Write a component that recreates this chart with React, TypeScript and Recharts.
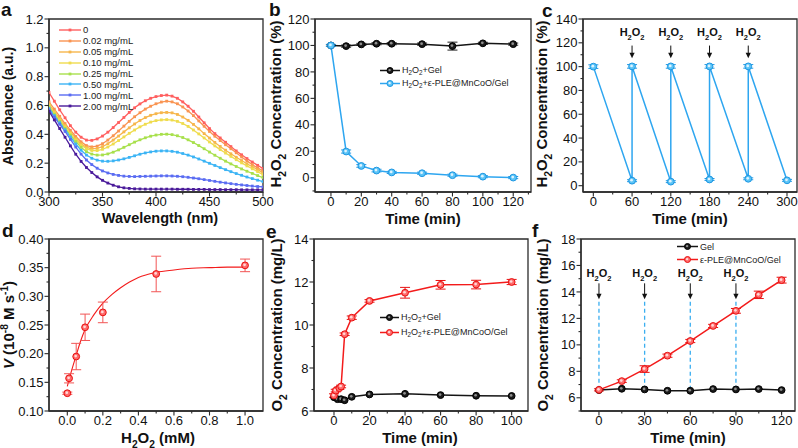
import React from "react";
import { LineChart, Line, XAxis, YAxis, ErrorBar, ReferenceArea, ReferenceDot, ReferenceLine, Legend } from "recharts";

const FONT = '"Liberation Sans", Arial, Helvetica, sans-serif';
const AX = "#2b2b2b";
const TXT = "#111";

// ---------- a: absorbance spectra ----------
const wavelengths = [300, 305, 310, 315, 320, 325, 330, 335, 340, 345, 350, 355, 360, 365, 370, 375, 380, 385, 390, 395, 400, 405, 410, 415, 420, 425, 430, 435, 440, 445, 450, 455, 460, 465, 470, 475, 480, 485, 490, 495, 500];
const concLabelsA = ["0", "0.02 mg/mL", "0.05 mg/mL", "0.10 mg/mL", "0.25 mg/mL", "0.50 mg/mL", "1.00 mg/mL", "2.00 mg/mL"];
const colorsA = ["#ff5f5f", "#f99452", "#f6b64c", "#efdc4e", "#a8e04c", "#3bb4f5", "#5a6cf2", "#4a1a9a"];
const abs0 = [0.69, 0.63, 0.57, 0.515, 0.46, 0.415, 0.38, 0.36, 0.358, 0.368, 0.388, 0.415, 0.447, 0.482, 0.517, 0.552, 0.584, 0.611, 0.633, 0.65, 0.662, 0.669, 0.672, 0.665, 0.65, 0.625, 0.595, 0.56, 0.52, 0.48, 0.44, 0.405, 0.375, 0.345, 0.315, 0.285, 0.258, 0.232, 0.208, 0.185, 0.163];
const abs002 = [0.625, 0.575, 0.525, 0.475, 0.428, 0.385, 0.348, 0.322, 0.313, 0.318, 0.335, 0.36, 0.39, 0.423, 0.457, 0.49, 0.522, 0.55, 0.575, 0.595, 0.612, 0.624, 0.63, 0.625, 0.612, 0.59, 0.562, 0.53, 0.493, 0.456, 0.42, 0.387, 0.357, 0.328, 0.3, 0.272, 0.243, 0.216, 0.19, 0.167, 0.146];
const abs005 = [0.61, 0.56, 0.51, 0.462, 0.415, 0.372, 0.335, 0.31, 0.3, 0.302, 0.315, 0.335, 0.36, 0.388, 0.417, 0.445, 0.472, 0.496, 0.516, 0.532, 0.543, 0.55, 0.552, 0.549, 0.538, 0.52, 0.497, 0.469, 0.438, 0.405, 0.374, 0.344, 0.316, 0.29, 0.265, 0.241, 0.218, 0.196, 0.175, 0.155, 0.133];
const abs010 = [0.6, 0.55, 0.5, 0.452, 0.405, 0.362, 0.325, 0.3, 0.288, 0.287, 0.296, 0.312, 0.333, 0.357, 0.382, 0.407, 0.43, 0.452, 0.47, 0.485, 0.495, 0.5, 0.502, 0.499, 0.49, 0.475, 0.455, 0.43, 0.403, 0.375, 0.347, 0.32, 0.294, 0.27, 0.247, 0.224, 0.202, 0.181, 0.161, 0.141, 0.12];
const abs025 = [0.59, 0.54, 0.49, 0.442, 0.395, 0.35, 0.31, 0.28, 0.263, 0.256, 0.257, 0.264, 0.276, 0.292, 0.31, 0.328, 0.346, 0.362, 0.376, 0.387, 0.395, 0.4, 0.401, 0.398, 0.39, 0.378, 0.362, 0.343, 0.322, 0.3, 0.277, 0.255, 0.234, 0.214, 0.195, 0.177, 0.16, 0.144, 0.129, 0.114, 0.1];
const abs050 = [0.58, 0.53, 0.48, 0.432, 0.382, 0.333, 0.29, 0.256, 0.234, 0.221, 0.214, 0.213, 0.216, 0.222, 0.23, 0.24, 0.251, 0.262, 0.271, 0.278, 0.283, 0.285, 0.285, 0.282, 0.276, 0.267, 0.256, 0.243, 0.229, 0.214, 0.199, 0.184, 0.169, 0.155, 0.141, 0.128, 0.116, 0.104, 0.093, 0.082, 0.072];
const abs100 = [0.57, 0.52, 0.47, 0.42, 0.365, 0.312, 0.263, 0.222, 0.19, 0.165, 0.146, 0.132, 0.122, 0.115, 0.11, 0.108, 0.107, 0.108, 0.109, 0.11, 0.111, 0.112, 0.112, 0.111, 0.109, 0.106, 0.102, 0.097, 0.092, 0.086, 0.08, 0.074, 0.068, 0.063, 0.058, 0.053, 0.049, 0.045, 0.041, 0.038, 0.035];
const abs200 = [0.56, 0.5, 0.44, 0.38, 0.32, 0.262, 0.212, 0.17, 0.135, 0.105, 0.081, 0.062, 0.047, 0.036, 0.029, 0.025, 0.022, 0.021, 0.02, 0.02, 0.02, 0.02, 0.02, 0.02, 0.019, 0.019, 0.019, 0.018, 0.018, 0.018, 0.017, 0.017, 0.017, 0.016, 0.016, 0.016, 0.015, 0.015, 0.015, 0.015, 0.015];
const absSeries = [abs0, abs002, abs005, abs010, abs025, abs050, abs100, abs200];

// ---------- b: H2O2 decomposition ----------
const timesB = [0, 10, 20, 30, 40, 60, 80, 100, 120];
const gelB = [100, 99.5, 100.8, 101.3, 101.3, 101, 99.5, 101.6, 101];
const gelErrB = [0.6, 0.8, 0.8, 0.8, 0.8, 0.8, 3, 0.8, 0.8];
const pleB = [100, 19.8, 8.9, 5.4, 4, 3.4, 1.9, 0.8, 0.1];
const pleErrB = [0.8, 1.2, 1, 1, 0.8, 0.8, 0.8, 0.8, 0.8];

// ---------- c: repeated H2O2 additions ----------
const timesC = [0, 60, 60, 120, 120, 180, 180, 240, 240, 300];
const concC = [100, 4.2, 100.2, 3.4, 100.2, 5.2, 100.2, 5.8, 100.2, 4.5];
const errC = [1.5, 0.8, 1.5, 0.8, 1.5, 0.8, 1.5, 0.8, 1.5, 0.8];
const injectTimesC = [60, 120, 180, 240];

// ---------- d: kinetics ----------
const concD = [0, 0.01, 0.05, 0.1, 0.2, 0.5, 1.0];
const rateD = [0.131, 0.157, 0.195, 0.246, 0.272, 0.339, 0.354];
const rateErrD = [0.002, 0.008, 0.023, 0.023, 0.018, 0.031, 0.011];
const fitXD = [0, 0.02, 0.05, 0.075, 0.1, 0.15, 0.2, 0.25, 0.3, 0.35, 0.4, 0.45, 0.5, 0.6, 0.7, 0.8, 0.9, 1.0];
const fitYD = [0.143, 0.166, 0.197, 0.222, 0.242, 0.268, 0.288, 0.303, 0.315, 0.325, 0.333, 0.338, 0.342, 0.346, 0.349, 0.35, 0.351, 0.351];

// ---------- e: O2 generation ----------
const timesGelE = [0, 2, 4, 6, 10, 20, 40, 60, 80, 100];
const gelE = [6.64, 6.55, 6.55, 6.5, 6.66, 6.77, 6.8, 6.74, 6.71, 6.7];
const timesPleE = [0, 1, 3, 4, 6, 10, 20, 40, 60, 80, 100];
const pleE = [6.72, 6.95, 7.06, 7.14, 9.57, 10.34, 11.12, 11.5, 11.87, 11.88, 12.0];
const pleErrE = [0.08, 0.06, 0.06, 0.06, 0.06, 0.08, 0.06, 0.25, 0.2, 0.2, 0.12];

// ---------- f: repeated O2 generation ----------
const timesF = [0, 15, 30, 45, 60, 75, 90, 105, 120];
const gelF = [6.58, 6.68, 6.63, 6.53, 6.53, 6.66, 6.63, 6.66, 6.58];
const pleF = [6.6, 7.26, 8.17, 9.18, 10.29, 11.43, 12.57, 13.78, 14.89];
const pleErrF = [0.08, 0.1, 0.25, 0.12, 0.12, 0.12, 0.18, 0.28, 0.22];
const injectTimesF = [0, 30, 60, 90];

const BLACK = { line: "#151515", fill: "#1a1a1a", edge: "#000", hi: "#8e8e8e" };
const BLUE = { line: "#2ea6f0", fill: "#5cc4f6", edge: "#1d97e3", hi: "#dff3ff" };
const RED = { line: "#f31b1b", fill: "#ff6b6b", edge: "#e81010", hi: "#ffd8d8" };

type Seg = { t: string; sub?: boolean; sup?: boolean; it?: boolean };
const H2O2: Seg[] = [{ t: "H" }, { t: "2", sub: true }, { t: "O" }, { t: "2", sub: true }];

function rich(segs: Seg[], size: number) {
  let shift = 0;
  return segs.map((s, i) => {
    const target = s.sub ? size * 0.3 : s.sup ? -size * 0.4 : 0;
    const dy = target - shift;
    shift = target;
    return (
      <tspan key={i} dy={dy} fontSize={s.sub || s.sup ? size * 0.68 : size} fontStyle={s.it ? "italic" : undefined}>
        {s.t}
      </tspan>
    );
  });
}

const isMajor = (major: number[], v: number) => major.some((m) => Math.abs(m - v) < 1e-9);

const xTick = (major: number[], fmt: (v: number) => string, dy = 14) => (p: any) => {
  const v = p.payload.value;
  const big = isMajor(major, v);
  return (
    <g>
      <line x1={p.x} y1={p.y} x2={p.x} y2={p.y + (big ? 4.5 : 2.5)} stroke={AX} strokeWidth={1.1} />
      {big && (
        <text x={p.x} y={p.y + dy} textAnchor="middle" fontSize={13} fontFamily={FONT} fill={TXT}>
          {fmt(v)}
        </text>
      )}
    </g>
  );
};

const yTick = (major: number[], fmt: (v: number) => string) => (p: any) => {
  const v = p.payload.value;
  const big = isMajor(major, v);
  return (
    <g>
      <line x1={p.x} y1={p.y} x2={p.x - (big ? 4.5 : 2.5)} y2={p.y} stroke={AX} strokeWidth={1.1} />
      {big && (
        <text x={p.x - 5.5} y={p.y + 4.6} textAnchor="end" fontSize={13} fontFamily={FONT} fill={TXT}>
          {fmt(v)}
        </text>
      )}
    </g>
  );
};

const int = (v: number) => String(v);
const f1 = (v: number) => v.toFixed(1);
const f2 = (v: number) => v.toFixed(2);
const axisLine = { stroke: AX, strokeWidth: 1.3 };

const squareDot = (c: string) => (p: any) => (
  <rect key={`s${p.index}`} x={p.cx - 1.4} y={p.cy - 1.4} width={2.8} height={2.8} fill={c} />
);

const ballDot = (st: typeof RED, r = 3.4) => (p: any) => (
  <g key={`b${p.index}`}>
    <circle cx={p.cx} cy={p.cy} r={r} fill={st.fill} stroke={st.edge} strokeWidth={1} />
    <circle cx={p.cx - 0.5} cy={p.cy - 0.5} r={r * 0.4} fill={st.hi} />
  </g>
);

const arrowMark = (len: number, gap: number) => (p: any) => {
  const { cx, cy } = p;
  return (
    <g>
      <line x1={cx} y1={cy - len} x2={cx} y2={cy - 4} stroke="#111" strokeWidth={1} />
      <path d={`M${cx - 2.6},${cy - 5.5} L${cx + 2.6},${cy - 5.5} L${cx},${cy} Z`} fill="#111" />
      <text x={cx} y={cy - len - gap} textAnchor="middle" fontSize={11} fontWeight="bold" fontFamily={FONT} fill={TXT}>
        {rich(H2O2, 11)}
      </text>
    </g>
  );
};

const frame = (x: [number, number], y: [number, number]) => (
  <ReferenceArea x1={x[0]} x2={x[1]} y1={y[0]} y2={y[1]} fill="none" stroke={AX} strokeWidth={1.3} ifOverflow="visible" />
);

const sub2 = <span style={{ fontSize: "0.7em", position: "relative", top: "0.3em" }}>2</span>;
const h2o2Html = (
  <>
    H{sub2}O{sub2}
  </>
);

function LegendRows(props: { items: { label: React.ReactNode; st: typeof RED }[]; rowH: number; sample: number; size: number }) {
  return (
    <div style={{ fontFamily: FONT, fontSize: props.size, color: "#222", whiteSpace: "nowrap" }}>
      {props.items.map((it, i) => (
        <div key={i} style={{ display: "flex", alignItems: "center", height: props.rowH }}>
          <svg width={props.sample} height={9} style={{ display: "block" }}>
            <line x1={0} y1={4.5} x2={props.sample} y2={4.5} stroke={it.st.line} strokeWidth={1.5} />
            <circle cx={props.sample / 2} cy={4.5} r={3} fill={it.st.fill} stroke={it.st.edge} strokeWidth={1} />
            <circle cx={props.sample / 2 - 0.4} cy={4.1} r={1.2} fill={it.st.hi} />
          </svg>
          <span style={{ marginLeft: 2 }}>{it.label}</span>
        </div>
      ))}
    </div>
  );
}

function LegendA() {
  return (
    <div style={{ fontFamily: FONT, fontSize: 9.5, color: "#222", whiteSpace: "nowrap" }}>
      {concLabelsA.map((n, i) => (
        <div key={n} style={{ display: "flex", alignItems: "center", height: 10.9 }}>
          <svg width={22} height={8} style={{ display: "block" }}>
            <line x1={0} y1={4} x2={22} y2={4} stroke={colorsA[i]} strokeWidth={1.4} />
            <rect x={9.6} y={2.6} width={2.8} height={2.8} fill={colorsA[i]} />
          </svg>
          <span style={{ marginLeft: 2 }}>{n}</span>
        </div>
      ))}
    </div>
  );
}

const legendPos = (left: number, top: number) => ({ left, top, width: "auto", height: "auto" });

function PanelA() {
  const rows = wavelengths.map((w, i) => {
    const r: any = { wl: w };
    absSeries.forEach((s, k) => (r[`s${k}`] = s[i]));
    return r;
  });
  const xMaj = [300, 350, 400, 450, 500];
  const xMin = [325, 375, 425, 475];
  const yMaj = [0, 0.2, 0.4, 0.6, 0.8, 1.0, 1.2];
  const yMin = [0.1, 0.3, 0.5, 0.7, 0.9, 1.1];
  return (
    <LineChart width={266} height={225} data={rows} margin={{ top: 19, right: 3, bottom: 0, left: 0 }}>
      <XAxis type="number" dataKey="wl" domain={[300, 500]} allowDataOverflow ticks={[...xMaj, ...xMin]} interval={0} tickSize={0} tickMargin={0} tickLine={false} tick={xTick(xMaj, int)} axisLine={axisLine} height={33} />
      <YAxis type="number" domain={[0, 1.2]} allowDataOverflow ticks={[...yMaj, ...yMin]} interval={0} tickSize={0} tickMargin={0} tickLine={false} tick={yTick(yMaj, f1)} axisLine={axisLine} width={49} />
      {frame([300, 500], [0, 1.2])}
      {absSeries.map((_, k) => (
        <Line key={k} type="linear" dataKey={`s${k}`} stroke={colorsA[k]} strokeWidth={1.3} dot={squareDot(colorsA[k])} isAnimationActive={false} />
      ))}
      <Legend layout="vertical" align="center" verticalAlign="middle" wrapperStyle={legendPos(59, 24.5)} content={() => <LegendA />} />
    </LineChart>
  );
}

function PanelB() {
  const gel = timesB.map((t, i) => ({ x: t, y: gelB[i], err: gelErrB[i] }));
  const ple = timesB.map((t, i) => ({ x: t, y: pleB[i], err: pleErrB[i] }));
  const xMaj = [0, 20, 40, 60, 80, 100, 120];
  const xMin = [10, 30, 50, 70, 90, 110, 130];
  const yMaj = [0, 20, 40, 60, 80, 100, 120];
  const yMin = [-10, 10, 30, 50, 70, 90, 110];
  const xd: [number, number] = [-10.5, 131.7];
  const yd: [number, number] = [-10.8, 120];
  return (
    <LineChart width={270} height={225} margin={{ top: 19, right: 4, bottom: 0, left: 0 }}>
      <XAxis type="number" dataKey="x" domain={xd} allowDataOverflow ticks={[...xMaj, ...xMin]} interval={0} tickSize={0} tickMargin={0} tickLine={false} tick={xTick(xMaj, int)} axisLine={axisLine} height={33} />
      <YAxis type="number" domain={yd} allowDataOverflow ticks={[...yMaj, ...yMin]} interval={0} tickSize={0} tickMargin={0} tickLine={false} tick={yTick(yMaj, int)} axisLine={axisLine} width={50} />
      {frame(xd, yd)}
      <Line data={gel} dataKey="y" stroke={BLACK.line} strokeWidth={1.5} dot={ballDot(BLACK)} isAnimationActive={false}>
        <ErrorBar dataKey="err" direction="y" width={5} stroke="#222" strokeWidth={1} isAnimationActive={false} />
      </Line>
      <Line data={ple} dataKey="y" stroke={BLUE.line} strokeWidth={1.5} dot={ballDot(BLUE)} isAnimationActive={false}>
        <ErrorBar dataKey="err" direction="y" width={5} stroke={BLUE.edge} strokeWidth={1} isAnimationActive={false} />
      </Line>
      <Legend
        layout="vertical"
        align="center"
        verticalAlign="middle"
        wrapperStyle={legendPos(115, 63.4)}
        content={() => (
          <LegendRows
            size={9}
            rowH={13.3}
            sample={20}
            items={[
              { label: <>{h2o2Html}+Gel</>, st: BLACK },
              { label: <>{h2o2Html}+ε-PLE@MnCoO/Gel</>, st: BLUE },
            ]}
          />
        )}
      />
    </LineChart>
  );
}

function PanelC() {
  const pts = timesC.map((t, i) => ({ x: t, y: concC[i], err: errC[i] }));
  const xMaj = [0, 60, 120, 180, 240, 300];
  const xMin = [30, 90, 150, 210, 270];
  const yMaj = [0, 20, 40, 60, 80, 100, 120, 140];
  const yMin = [10, 30, 50, 70, 90, 110, 130];
  const xd: [number, number] = [-16, 315.5];
  const yd: [number, number] = [-5.3, 140];
  return (
    <LineChart width={268} height={225} margin={{ top: 19, right: 1, bottom: 0, left: 0 }}>
      <XAxis type="number" dataKey="x" domain={xd} allowDataOverflow ticks={[...xMaj, ...xMin]} interval={0} tickSize={0} tickMargin={0} tickLine={false} tick={xTick(xMaj, int)} axisLine={axisLine} height={33} />
      <YAxis type="number" domain={yd} allowDataOverflow ticks={[...yMaj, ...yMin]} interval={0} tickSize={0} tickMargin={0} tickLine={false} tick={yTick(yMaj, int)} axisLine={axisLine} width={53} />
      {frame(xd, yd)}
      <Line data={pts} dataKey="y" stroke={BLUE.line} strokeWidth={1.5} dot={ballDot(BLUE)} isAnimationActive={false}>
        <ErrorBar dataKey="err" direction="y" width={5} stroke={BLUE.edge} strokeWidth={1} isAnimationActive={false} />
      </Line>
      {injectTimesC.map((t) => (
        <ReferenceDot key={t} x={t} y={107.1} ifOverflow="visible" shape={arrowMark(12.6, 9.2)} />
      ))}
    </LineChart>
  );
}

function PanelD() {
  const pts = concD.map((c, i) => ({ x: c, y: rateD[i], err: rateErrD[i] }));
  const fit = fitXD.map((c, i) => ({ x: c, y: fitYD[i] }));
  const xMaj = [0, 0.2, 0.4, 0.6, 0.8, 1.0];
  const xMin = [0.1, 0.3, 0.5, 0.7, 0.9];
  const yMaj = [0.1, 0.15, 0.2, 0.25, 0.3, 0.35, 0.4];
  const yMin = [0.125, 0.175, 0.225, 0.275, 0.325, 0.375];
  const xd: [number, number] = [-0.103, 1.101];
  const yd: [number, number] = [0.1, 0.4];
  return (
    <LineChart width={266} height={228} margin={{ top: 19, right: 3, bottom: 0, left: 0 }}>
      <XAxis type="number" dataKey="x" domain={xd} allowDataOverflow ticks={[...xMaj, ...xMin]} interval={0} tickSize={0} tickMargin={0} tickLine={false} tick={xTick(xMaj, f1)} axisLine={axisLine} height={37} />
      <YAxis type="number" domain={yd} allowDataOverflow ticks={[...yMaj, ...yMin]} interval={0} tickSize={0} tickMargin={0} tickLine={false} tick={yTick(yMaj, f2)} axisLine={axisLine} width={49} />
      {frame(xd, yd)}
      <Line data={fit} dataKey="y" type="monotone" stroke={RED.line} strokeWidth={1.1} dot={false} isAnimationActive={false} />
      <Line data={pts} dataKey="y" stroke="none" dot={ballDot(RED)} isAnimationActive={false}>
        <ErrorBar dataKey="err" direction="y" width={5} stroke="#f25555" strokeWidth={1} isAnimationActive={false} />
      </Line>
    </LineChart>
  );
}

function PanelE() {
  const gel = timesGelE.map((t, i) => ({ x: t, y: gelE[i] }));
  const ple = timesPleE.map((t, i) => ({ x: t, y: pleE[i], err: pleErrE[i] }));
  const xMaj = [0, 20, 40, 60, 80, 100];
  const xMin = [10, 30, 50, 70, 90];
  const yMaj = [6, 8, 10, 12, 14];
  const yMin = [7, 9, 11, 13];
  const xd: [number, number] = [-11.25, 109.2];
  const yd: [number, number] = [6, 14];
  return (
    <LineChart width={270} height={228} margin={{ top: 19, right: 7, bottom: 0, left: 0 }}>
      <XAxis type="number" dataKey="x" domain={xd} allowDataOverflow ticks={[...xMaj, ...xMin]} interval={0} tickSize={0} tickMargin={0} tickLine={false} tick={xTick(xMaj, int)} axisLine={axisLine} height={37} />
      <YAxis type="number" domain={yd} allowDataOverflow ticks={[...yMaj, ...yMin]} interval={0} tickSize={0} tickMargin={0} tickLine={false} tick={yTick(yMaj, int)} axisLine={axisLine} width={49} />
      {frame(xd, yd)}
      <Line data={gel} dataKey="y" stroke={BLACK.line} strokeWidth={1.5} dot={ballDot(BLACK)} isAnimationActive={false} />
      <Line data={ple} dataKey="y" stroke={RED.line} strokeWidth={1.5} dot={ballDot(RED)} isAnimationActive={false}>
        <ErrorBar dataKey="err" direction="y" width={5} stroke={RED.edge} strokeWidth={1} isAnimationActive={false} />
      </Line>
      <Legend
        layout="vertical"
        align="center"
        verticalAlign="middle"
        wrapperStyle={legendPos(115, 90)}
        content={() => (
          <LegendRows
            size={9}
            rowH={14.7}
            sample={19}
            items={[
              { label: <>{h2o2Html}+Gel</>, st: BLACK },
              { label: <>{h2o2Html}+ε-PLE@MnCoO/Gel</>, st: RED },
            ]}
          />
        )}
      />
    </LineChart>
  );
}

function PanelF() {
  const gel = timesF.map((t, i) => ({ x: t, y: gelF[i] }));
  const ple = timesF.map((t, i) => ({ x: t, y: pleF[i], err: pleErrF[i] }));
  const xMaj = [0, 30, 60, 90, 120];
  const xMin = [15, 45, 75, 105];
  const yMaj = [6, 8, 10, 12, 14, 16, 18];
  const yMin = [5, 7, 9, 11, 13, 15, 17];
  const xd: [number, number] = [-11.8, 128.8];
  const yd: [number, number] = [5, 18];
  return (
    <LineChart width={268} height={228} margin={{ top: 19, right: 3, bottom: 0, left: 0 }}>
      <XAxis type="number" dataKey="x" domain={xd} allowDataOverflow ticks={[...xMaj, ...xMin]} interval={0} tickSize={0} tickMargin={0} tickLine={false} tick={xTick(xMaj, int)} axisLine={axisLine} height={37} />
      <YAxis type="number" domain={yd} allowDataOverflow ticks={[...yMaj, ...yMin]} interval={0} tickSize={0} tickMargin={0} tickLine={false} tick={yTick(yMaj, int)} axisLine={axisLine} width={51} />
      {frame(xd, yd)}
      {injectTimesF.map((t) => (
        <ReferenceLine key={`l${t}`} segment={[{ x: t, y: 6.6 }, { x: t, y: 13.44 }]} stroke="#3aaef0" strokeWidth={1.3} strokeDasharray="4 3" ifOverflow="visible" />
      ))}
      <Line data={gel} dataKey="y" stroke={BLACK.line} strokeWidth={1.5} dot={ballDot(BLACK)} isAnimationActive={false} />
      <Line data={ple} dataKey="y" stroke={RED.line} strokeWidth={1.5} dot={ballDot(RED)} isAnimationActive={false}>
        <ErrorBar dataKey="err" direction="y" width={5} stroke={RED.edge} strokeWidth={1} isAnimationActive={false} />
      </Line>
      {injectTimesF.map((t) => (
        <ReferenceDot key={`a${t}`} x={t} y={13.44} ifOverflow="visible" shape={arrowMark(16, 6)} />
      ))}
      <Legend
        layout="vertical"
        align="center"
        verticalAlign="middle"
        wrapperStyle={legendPos(147, 20)}
        content={() => (
          <LegendRows
            size={9}
            rowH={13.3}
            sample={21}
            items={[
              { label: "Gel", st: BLACK },
              { label: "ε-PLE@MnCoO/Gel", st: RED },
            ]}
          />
        )}
      />
    </LineChart>
  );
}

const titleStyle = { fontSize: 15, fontWeight: "bold" as const, fontFamily: FONT, fill: TXT };

function XTitle({ x, y, segs, size = 15 }: { x: number; y: number; segs: Seg[]; size?: number }) {
  return (
    <text x={x} y={y} textAnchor="middle" {...titleStyle} fontSize={size}>
      {rich(segs, size)}
    </text>
  );
}

function YTitle({ x, y, segs, size = 15 }: { x: number; y: number; segs: Seg[]; size?: number }) {
  return (
    <text x={x} y={y} transform={`rotate(-90 ${x} ${y})`} textAnchor="middle" {...titleStyle} fontSize={size}>
      {rich(segs, size)}
    </text>
  );
}

const TIME: Seg[] = [{ t: "Time (min)" }];
const H2O2_CONC: Seg[] = [...H2O2, { t: " Concentration (%)" }];
const O2_CONC: Seg[] = [{ t: "O" }, { t: "2", sub: true }, { t: " Concentration (mg/L)" }];
const RATE: Seg[] = [{ t: "V", it: true }, { t: " (10" }, { t: "-8", sup: true }, { t: " M s" }, { t: "-1", sup: true }, { t: ")" }];

export default function App() {
  return (
    <div style={{ position: "absolute", left: 0, top: 0, width: 798, height: 448, background: "#fff", overflow: "hidden" }}>
      <style>{`.recharts-surface { overflow: visible; }`}</style>
      <div style={{ position: "absolute", left: 0, top: 0 }}>
        <PanelA />
      </div>
      <div style={{ position: "absolute", left: 265, top: 0 }}>
        <PanelB />
      </div>
      <div style={{ position: "absolute", left: 530, top: 0 }}>
        <PanelC />
      </div>
      <div style={{ position: "absolute", left: 0, top: 220 }}>
        <PanelD />
      </div>
      <div style={{ position: "absolute", left: 265, top: 220 }}>
        <PanelE />
      </div>
      <div style={{ position: "absolute", left: 530, top: 220 }}>
        <PanelF />
      </div>
      <svg width={798} height={448} style={{ position: "absolute", left: 0, top: 0, pointerEvents: "none" }}>
        <g fontFamily={FONT} fontWeight="bold" fontSize={19} fill={TXT}>
          <text x={1} y={16}>a</text>
          <text x={269} y={16}>b</text>
          <text x={542} y={17}>c</text>
          <text x={2} y={237}>d</text>
          <text x={266} y={238}>e</text>
          <text x={532} y={237}>f</text>
        </g>
        <XTitle x={160} y={223} size={14.5} segs={[{ t: "Wavelength (nm)" }]} />
        <XTitle x={423} y={223.5} segs={TIME} />
        <XTitle x={690} y={223.5} segs={TIME} />
        <XTitle x={158} y={443} segs={[...H2O2, { t: " (mM)" }]} />
        <XTitle x={420} y={443} segs={TIME} />
        <XTitle x={688} y={443} segs={TIME} />
        <YTitle x={12.5} y={106} segs={[{ t: "Absorbance (a.u.)" }]} size={14} />
        <YTitle x={281} y={104} segs={H2O2_CONC} />
        <YTitle x={547} y={104} segs={H2O2_CONC} />
        <YTitle x={14} y={325} segs={RATE} />
        <YTitle x={282} y={325} segs={O2_CONC} />
        <YTitle x={548} y={325} segs={O2_CONC} />
      </svg>
    </div>
  );
}
